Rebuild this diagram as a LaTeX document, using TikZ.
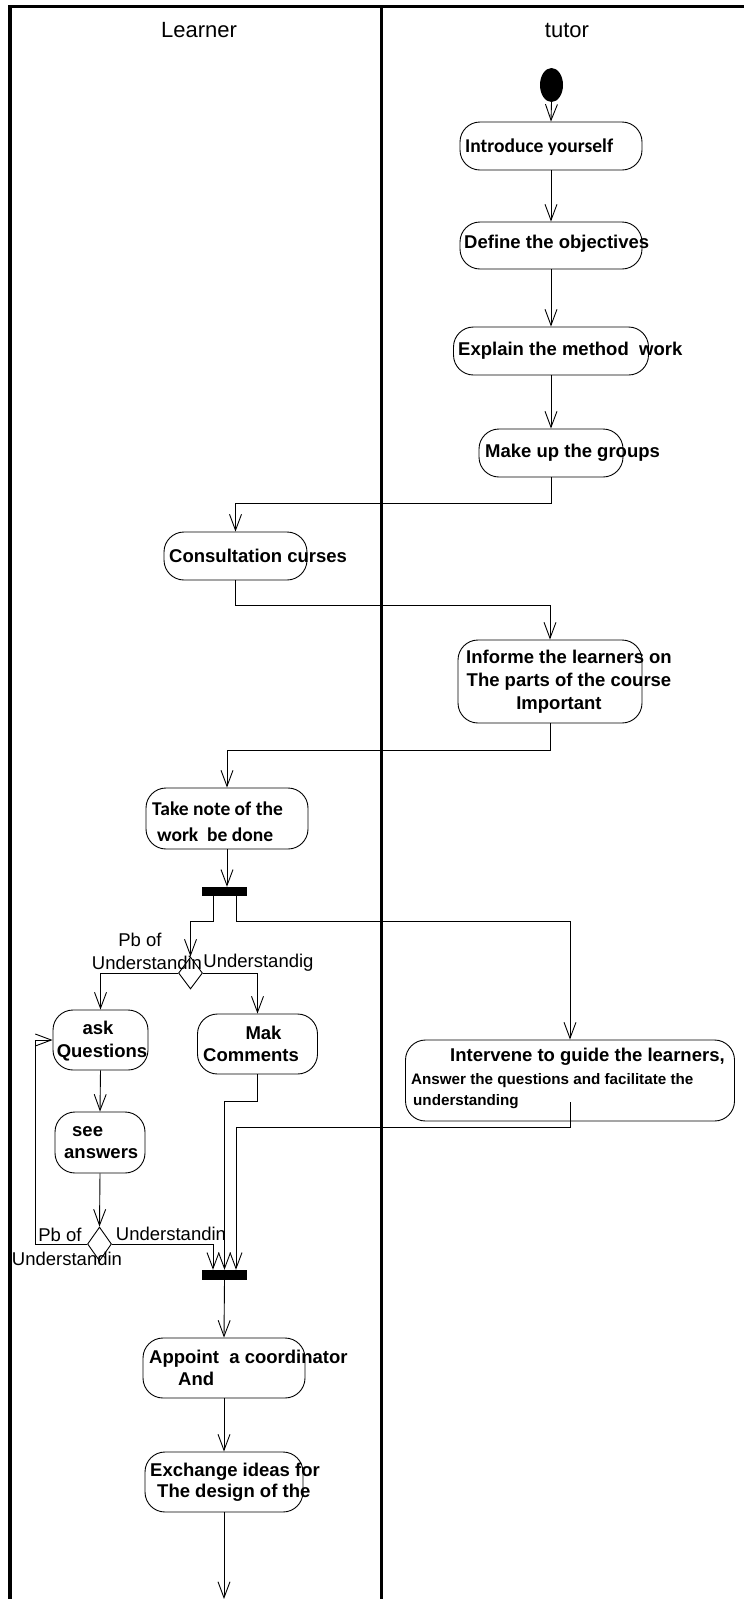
\documentclass[tikz,border=0pt]{standalone}
\usepackage{fontspec}
\setmainfont{Liberation Sans}
\newfontfamily\carl{Carlito}
\usetikzlibrary{arrows.meta,shapes.geometric}
\begin{document}
\begin{tikzpicture}[x=1pt,y=-1pt,
  frame/.style={line width=3.8pt, black},
  act/.style={draw, line width=0.9pt, rounded corners=20pt, inner sep=0pt},
  bar/.style={fill=black, inner sep=0pt, minimum width=45pt},
  dec/.style={draw, diamond, line width=0.9pt, inner sep=0pt, minimum width=24pt},
  flow/.style={line width=0.9pt, -{Straight Barb[length=16pt,width=12pt,line width=0.9pt]}},
  txt/.style={inner sep=0pt, font=\fontsize{18.5}{22}\selectfont\bfseries},
  ctxt/.style={inner sep=0pt, font=\fontsize{19.5}{26}\selectfont\carl\bfseries},
  stxt/.style={inner sep=0pt, font=\fontsize{15.2}{18}\selectfont\bfseries},
  glab/.style={inner sep=0pt, font=\fontsize{18.5}{22}\selectfont},
  head/.style={inner sep=0pt, font=\fontsize{22}{26}\selectfont}
]
\useasboundingbox (0,0) rectangle (744,1599);
% swimlane frame
\draw[frame] (8,6.5) -- (744,6.5);
\draw[frame] (10,5) -- (10,1599);
\draw[frame] (381.5,5) -- (381.5,1599);
\node[head] (hl) at (199,30) {Learner};
\node[head] (ht) at (567,30) {tutor};

% start
\node[fill=black, ellipse, minimum width=23pt, minimum height=34pt, inner sep=0pt] (start) at (551.5,85) {};

% activities
\node[act, minimum width=182pt, minimum height=48pt] (intro) at (551,146) {};
\node[act, minimum width=182pt, minimum height=47pt] (define) at (551,245.5) {};
\node[act, minimum width=195pt, minimum height=48pt] (explain) at (551,351) {};
\node[act, minimum width=144pt, minimum height=48pt] (makeup) at (551,453) {};
\node[act, minimum width=143pt, minimum height=48pt] (consult) at (235.5,556) {};
\node[act, minimum width=184pt, minimum height=83pt] (informe) at (550,681.5) {};
\node[act, minimum width=162pt, minimum height=61pt] (takenote) at (227,818.5) {};
\node[bar, minimum height=9pt] (bar1) at (224.5,891.5) {};
\node[dec, minimum height=32pt] (d1) at (190.5,973) {};
\node[act, minimum width=95pt, minimum height=60pt] (askq) at (100.5,1040) {};
\node[act, minimum width=120pt, minimum height=60pt] (mak) at (257.5,1044) {};
\node[act, minimum width=329pt, minimum height=81pt] (interv) at (570,1080.5) {};
\node[act, minimum width=90pt, minimum height=61pt] (see) at (100,1142.5) {};
\node[dec, minimum height=34pt] (d2) at (99.5,1244) {};
\node[bar, minimum height=10pt] (bar2) at (224.5,1275) {};
\node[act, minimum width=162pt, minimum height=60pt] (appoint) at (224,1368) {};
\node[act, minimum width=158pt, minimum height=60pt] (exchange) at (224,1482) {};
\coordinate (fin) at (224,1599);

% texts
\node[ctxt, anchor=west] (t1) at (465,147) {Introduce yourself};
\node[txt, anchor=west] (t2) at (464,244) {Define the objectives};
\node[txt, anchor=west] (t3) at (458,351) {Explain the method\ \ work};
\node[txt, anchor=west] (t4) at (485,453) {Make up the groups};
\node[txt, anchor=west] (t5) at (169,556) {Consultation curses};
\node[txt, align=center, font=\fontsize{18.5}{23}\selectfont\bfseries] (t6) at (569,682) {Informe the learners on\\The parts of the course\\Important\hspace*{20pt}};
\node[ctxt, anchor=west, align=left] (t7) at (152,822) {Take note of the\\\hspace*{5pt}work\ \ be done};
\node[txt, align=center, font=\fontsize{18.5}{23}\selectfont\bfseries] (t8) at (102,1041) {\hspace*{-8pt}ask\\Questions};
\node[txt, align=center, font=\fontsize{18.5}{22}\selectfont\bfseries] (t9) at (251,1044) {\hspace*{25pt}Mak\\Comments};
\node[txt, anchor=west] (t10a) at (450,1057) {Intervene to guide the learners,};
\node[stxt, anchor=west] (t10b) at (411,1081) {Answer the questions and facilitate the};
\node[stxt, anchor=west] (t10c) at (413,1102) {understanding};
\node[txt, anchor=west, align=left] (t11) at (64,1143) {\hspace*{8pt}see\\answers};
\node[txt, anchor=west, align=left] (t12) at (149,1368) {Appoint\ \ a coordinator\\\hspace*{29pt}And};
\node[txt, anchor=west, align=left, font=\fontsize{18.5}{21}\selectfont\bfseries] (t13) at (150,1482.5) {Exchange ideas for\\\hspace*{7pt}The design of the};

% guard labels
\node[glab] (g1) at (140,940) {Pb of};
\node[glab] (g2) at (147,963) {Understandin};
\node[glab] (g3) at (258.5,963) {Understandig};
\node[glab] (g4) at (60,1235) {Pb of};
\node[glab] (g5) at (67,1259) {Understandin};
\node[glab] (g6) at (171,1234) {Understandin};

% flows
\draw[flow] (start.south) -- (intro.north);
\draw[flow] (intro.south) -- (define.north);
\draw[flow] (define.south) -- (explain.north);
\draw[flow] (explain.south) -- (makeup.north);
\draw[flow] (makeup.south) -- ++(0,26) -| (consult.north);
\draw[flow] (consult.south) -- ++(0,25) -| (informe.north);
\draw[flow] (informe.south) -- ++(0,27) -| (takenote.north);
\draw[flow] (takenote.south) -- (takenote.south |- bar1.north);
\draw[flow] ([xshift=-11.5pt]bar1.south) -- ++(0,25) -| (d1.north);
\draw[flow] ([xshift=11.5pt]bar1.south) -- ++(0,25) -| (interv.north);
\draw[flow] (d1.west) -| (askq.north);
\draw[flow] (d1.east) -| (mak.north);
\draw[flow] (askq.south) -- (see.north);
\draw[flow] (see.south) -- (d2.north);
\draw[flow] (d2.west) -- ++(-52,0) |- (askq.west);
\draw[flow] (d2.east) -| ([xshift=-11.5pt]bar2.north);
\draw[flow] (mak.south) -- ++(0,27) -| (bar2.north);
\draw[flow] ([yshift=19pt]interv.south) -- ++(0,25) -| ([xshift=11.5pt]bar2.north);
\draw[flow] (bar2.south) -- (appoint.north);
\draw[flow] (appoint.south) -- (exchange.north);
\draw[flow] (exchange.south) -- (fin);
\end{tikzpicture}
\end{document}
